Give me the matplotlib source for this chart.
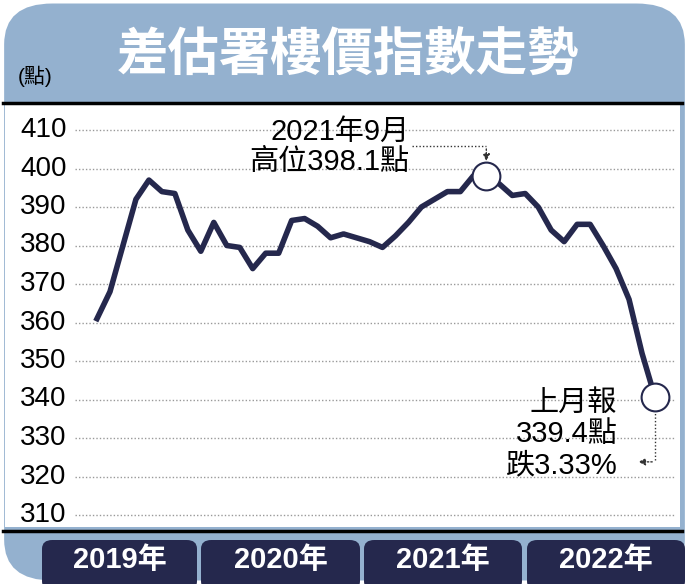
import matplotlib.pyplot as plt
from matplotlib.patches import FancyBboxPatch
import numpy as np

plt.rcParams['font.family'] = ['Liberation Sans Narrow', 'Liberation Sans', 'Noto Sans CJK TC', 'DejaVu Sans']

# index values, roughly one point every ~4 weeks, Jan 2019 - Oct 2022
values = [361, 368, 380, 392, 397, 394, 393.5, 384, 378.5, 386, 380, 379.5, 374, 378,
          378, 386.5, 387, 385, 382, 383, 382, 381, 379.5, 382.5, 386, 390, 392, 394,
          394, 398.1, 398.1, 396, 393, 393.5, 390, 384, 381, 385.5, 385.5, 380, 374,
          366, 352, 340.6]
yticks = [310, 320, 330, 340, 350, 360, 370, 380, 390, 400, 410]
years = ['2019年', '2020年', '2021年', '2022年']

W, H = 689, 584
navy = '#25284d'
fig = plt.figure(figsize=(W / 100, H / 100), dpi=100)
fig.patch.set_facecolor('white')

def fx(px):
    return px / W

def fy(py):
    return 1 - py / H

# blue rounded background
fig.patches.append(FancyBboxPatch((0.006, 0.006), 0.988, 0.988,
                                  boxstyle='round,pad=0,rounding_size=0.07',
                                  transform=fig.transFigure, fc='#94b1cf', ec='none', zorder=-3))

# white panel + black rules
fig.patches.append(plt.Rectangle((fx(5), fy(527)), fx(675), (527 - 103) / H,
                                 transform=fig.transFigure, fc='white', ec='none', zorder=-2))
for py in (103, 531):
    fig.lines.append(plt.Line2D([fx(3), fx(682)], [fy(py), fy(py)], transform=fig.transFigure,
                                color='black', lw=2.5, zorder=-1))

fig.text(fx(348), fy(55), '差估署樓價指數走勢', color='white', fontsize=37, fontweight='bold',
         ha='center', va='center', family=['Noto Sans CJK TC'])
fig.text(fx(18), fy(76), '(點)', fontsize=15, ha='left', va='center')

# main axes: px 97 -> idx 0, px 655 -> idx 43 ; 410 at py 130, 310 at py 515
ax = fig.add_axes([fx(5), fy(527), fx(675), (527 - 103) / H])
ax.set_facecolor('none')
sx = (655 - 97) / 43
ax.set_xlim((5 - 97) / sx, (680 - 97) / sx)
sy = (515 - 130) / 100
ax.set_ylim(310 - (527 - 515) / sy, 410 + (130 - 103) / sy)
ax.axis('off')

trans = ax.get_yaxis_transform()
for t in yticks:
    ax.plot([(75 - 5) / 675, (675 - 5) / 675], [t, t], transform=trans, color='#999999',
            lw=1, ls=(0, (1, 1.5)), zorder=1)
    ax.text((20 - 5) / 675, t, str(t), transform=trans, fontsize=20, ha='left', va='center')

x = np.arange(len(values))
ax.plot(x, values, color=navy, lw=4, solid_joinstyle='round', zorder=3)

# circles at peak and last point
ipk = 30
ax.plot([ipk], [398.1], 'o', ms=20, mfc='white', mec=navy, mew=1.5, zorder=4)
ax.plot([x[-1]], [values[-1]], 'o', ms=20, mfc='white', mec=navy, mew=1.5, zorder=4)

# peak annotation
ax.text(ipk - 5.9, 405.5, '2021年9月\n高位398.1點', fontsize=21, ha='right', va='center',
        linespacing=1.1)
ax.plot([ipk - 5.7, ipk], [405.8, 405.8], color='#333333', lw=1, ls=(0, (1, 1.5)))
ax.annotate('', xy=(ipk, 401.2), xytext=(ipk, 405.8),
            arrowprops=dict(arrowstyle='-|>', color='#333333', lw=1, ls=(0, (1, 1.5)),
                            mutation_scale=10))

# last-month annotation
ax.text(x[-1] - 2.9, 331, '上月報\n339.4點\n跌3.33%', fontsize=21, ha='right', va='center',
        linespacing=1.15)
ax.plot([x[-1], x[-1]], [337.3, 323.8], color='#333333', lw=1, ls=(0, (1, 1.5)))
ax.annotate('', xy=(x[-1] - 1.5, 323.8), xytext=(x[-1], 323.8),
            arrowprops=dict(arrowstyle='-|>', color='#333333', lw=1, ls=(0, (1, 1.5)),
                            mutation_scale=10))

# year boxes
edges = [(42, 197), (201, 360), (364, 522), (527, 685)]
for (a, b), lab in zip(edges, years):
    fig.patches.append(FancyBboxPatch((fx(a), fy(590)), fx(b - a), (590 - 540) / H,
                                      boxstyle='round,pad=0,rounding_size=0.015',
                                      transform=fig.transFigure, fc=navy, ec='none', zorder=-1))
    fig.text(fx((a + b) / 2), fy(560), lab, color='white', fontsize=21, fontweight='bold',
             ha='center', va='center')

fig.savefig('out.png', dpi=100, facecolor=fig.get_facecolor())
